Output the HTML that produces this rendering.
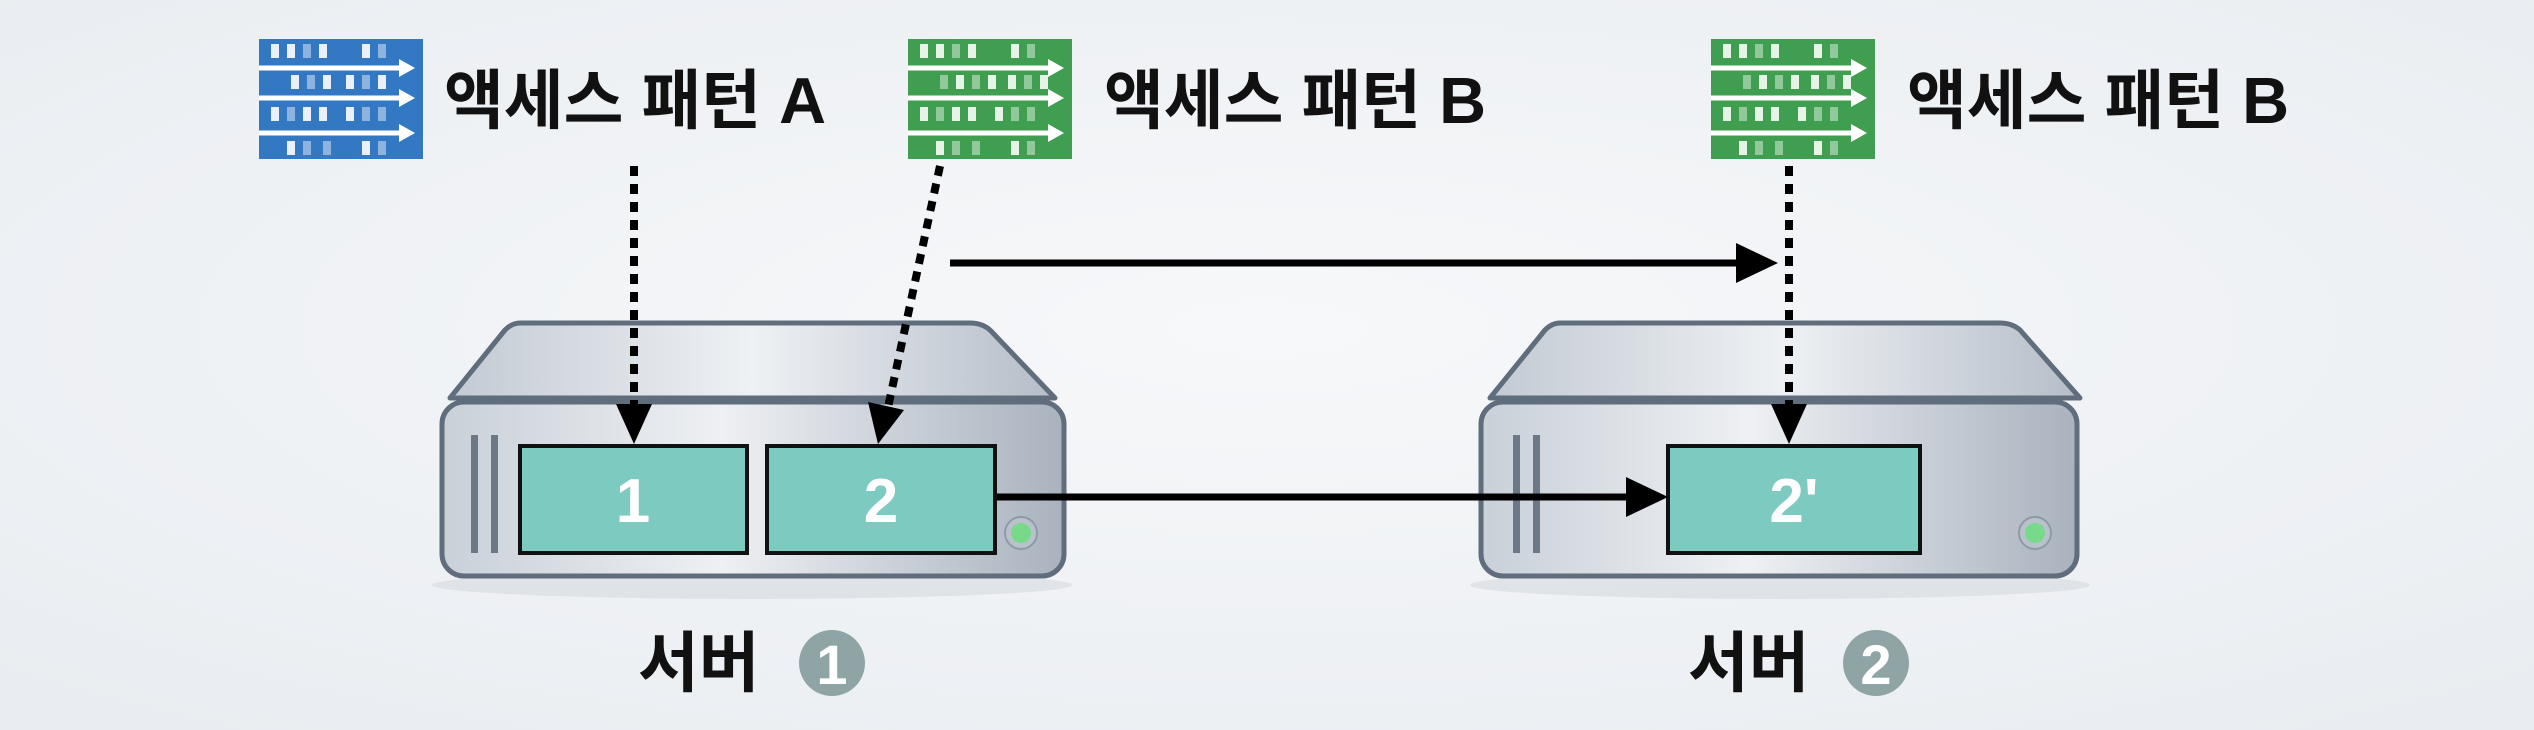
<!DOCTYPE html>
<html><head><meta charset="utf-8"><style>
html,body{margin:0;padding:0;}
body{width:2534px;height:730px;overflow:hidden;background:#f0f2f5;}
svg{display:block;}
text{font-family:"Liberation Sans","Noto Sans CJK KR",sans-serif;font-weight:bold;}
</style></head><body>
<svg width="2534" height="730" viewBox="0 0 2534 730" xmlns="http://www.w3.org/2000/svg">
<defs>
<radialGradient id="bg" cx="50%" cy="45%" r="70%"><stop offset="0" stop-color="#f7f8fa"/><stop offset="1" stop-color="#e9edf1"/></radialGradient>
<linearGradient id="top" x1="0" y1="0" x2="1" y2="0"><stop offset="0" stop-color="#c3cad3"/><stop offset="0.5" stop-color="#eef1f4"/><stop offset="1" stop-color="#b5bdc8"/></linearGradient>
<linearGradient id="front" x1="0" y1="0" x2="1" y2="0"><stop offset="0" stop-color="#c9d0d8"/><stop offset="0.45" stop-color="#eef0f3"/><stop offset="1" stop-color="#a9b2be"/></linearGradient>
</defs>
<rect width="2534" height="730" fill="url(#bg)"/>

<!-- icons -->
<g transform="translate(259,39)">
<rect width="164" height="120" fill="#3278c2"/>
<g stroke="#fff" stroke-width="5"><line x1="0" y1="29" x2="148" y2="29"/><line x1="0" y1="59" x2="148" y2="59"/><line x1="0" y1="94" x2="148" y2="94"/></g>
<g fill="#fff"><path d="M140,20 L156,29 L140,38z"/><path d="M140,50 L156,59 L140,68z"/><path d="M140,85 L156,94 L140,103z"/></g>
<g fill="#e8f0fa"><rect x="12" y="5" width="8" height="14"/><rect x="28" y="5" width="8" height="14"/><rect x="44" y="5" width="8" height="14" opacity=".5"/><rect x="60" y="5" width="8" height="14"/><rect x="103" y="5" width="8" height="14"/><rect x="119" y="5" width="8" height="14" opacity=".5"/>
<rect x="32" y="36" width="8" height="14"/><rect x="48" y="36" width="8" height="14" opacity=".5"/><rect x="64" y="36" width="8" height="14"/><rect x="87" y="36" width="8" height="14"/><rect x="103" y="36" width="8" height="14" opacity=".5"/><rect x="119" y="36" width="8" height="14"/>
<rect x="12" y="68" width="8" height="14"/><rect x="28" y="68" width="8" height="14" opacity=".5"/><rect x="44" y="68" width="8" height="14"/><rect x="60" y="68" width="8" height="14"/><rect x="87" y="68" width="8" height="14"/><rect x="103" y="68" width="8" height="14" opacity=".5"/><rect x="119" y="68" width="8" height="14" opacity=".5"/>
<rect x="28" y="102" width="8" height="14"/><rect x="44" y="102" width="8" height="14" opacity=".5"/><rect x="64" y="102" width="8" height="14" opacity=".5"/><rect x="103" y="102" width="8" height="14"/><rect x="119" y="102" width="8" height="14" opacity=".5"/></g>
</g>
<g transform="translate(908,39)">
<rect width="164" height="120" fill="#3f9e4f"/>
<g stroke="#fff" stroke-width="5"><line x1="0" y1="29" x2="148" y2="29"/><line x1="0" y1="59" x2="148" y2="59"/><line x1="0" y1="94" x2="148" y2="94"/></g>
<g fill="#fff"><path d="M140,20 L156,29 L140,38z"/><path d="M140,50 L156,59 L140,68z"/><path d="M140,85 L156,94 L140,103z"/></g>
<g fill="#e6f4e8"><rect x="12" y="5" width="8" height="14"/><rect x="28" y="5" width="8" height="14"/><rect x="44" y="5" width="8" height="14" opacity=".5"/><rect x="60" y="5" width="8" height="14"/><rect x="103" y="5" width="8" height="14"/><rect x="119" y="5" width="8" height="14" opacity=".5"/>
<rect x="32" y="36" width="8" height="14" opacity=".5"/><rect x="48" y="36" width="8" height="14"/><rect x="64" y="36" width="8" height="14" opacity=".5"/><rect x="80" y="36" width="8" height="14"/><rect x="100" y="36" width="8" height="14"/><rect x="116" y="36" width="8" height="14" opacity=".5"/><rect x="132" y="36" width="8" height="14"/>
<rect x="12" y="68" width="8" height="14"/><rect x="28" y="68" width="8" height="14" opacity=".5"/><rect x="44" y="68" width="8" height="14"/><rect x="60" y="68" width="8" height="14"/><rect x="87" y="68" width="8" height="14"/><rect x="103" y="68" width="8" height="14" opacity=".5"/><rect x="119" y="68" width="8" height="14" opacity=".5"/>
<rect x="28" y="102" width="8" height="14"/><rect x="44" y="102" width="8" height="14" opacity=".5"/><rect x="64" y="102" width="8" height="14" opacity=".5"/><rect x="103" y="102" width="8" height="14"/><rect x="119" y="102" width="8" height="14" opacity=".5"/></g>
</g>
<g transform="translate(1711,39)">
<rect width="164" height="120" fill="#3f9e4f"/>
<g stroke="#fff" stroke-width="5"><line x1="0" y1="29" x2="148" y2="29"/><line x1="0" y1="59" x2="148" y2="59"/><line x1="0" y1="94" x2="148" y2="94"/></g>
<g fill="#fff"><path d="M140,20 L156,29 L140,38z"/><path d="M140,50 L156,59 L140,68z"/><path d="M140,85 L156,94 L140,103z"/></g>
<g fill="#e6f4e8"><rect x="12" y="5" width="8" height="14"/><rect x="28" y="5" width="8" height="14"/><rect x="44" y="5" width="8" height="14" opacity=".5"/><rect x="60" y="5" width="8" height="14"/><rect x="103" y="5" width="8" height="14"/><rect x="119" y="5" width="8" height="14" opacity=".5"/>
<rect x="32" y="36" width="8" height="14" opacity=".5"/><rect x="48" y="36" width="8" height="14"/><rect x="64" y="36" width="8" height="14" opacity=".5"/><rect x="80" y="36" width="8" height="14"/><rect x="100" y="36" width="8" height="14"/><rect x="116" y="36" width="8" height="14" opacity=".5"/><rect x="132" y="36" width="8" height="14"/>
<rect x="12" y="68" width="8" height="14"/><rect x="28" y="68" width="8" height="14" opacity=".5"/><rect x="44" y="68" width="8" height="14"/><rect x="60" y="68" width="8" height="14"/><rect x="87" y="68" width="8" height="14"/><rect x="103" y="68" width="8" height="14" opacity=".5"/><rect x="119" y="68" width="8" height="14" opacity=".5"/>
<rect x="28" y="102" width="8" height="14"/><rect x="44" y="102" width="8" height="14" opacity=".5"/><rect x="64" y="102" width="8" height="14" opacity=".5"/><rect x="103" y="102" width="8" height="14"/><rect x="119" y="102" width="8" height="14" opacity=".5"/></g>
</g>

<g font-size="65" fill="#111">
<text x="444" y="123">액세스 패턴 A</text>
<text x="1104" y="123">액세스 패턴 B</text>
<text x="1907" y="123">액세스 패턴 B</text>
</g>

<!-- server 1 -->
<ellipse cx="752" cy="585" rx="320" ry="14" fill="#d8dde3" opacity=".7"/>
<path d="M520,323 L970,323 Q982,323 990,330 L1055,398 L450,398 L505,330 Q512,323 520,323z" fill="url(#top)" stroke="#5f6d7c" stroke-width="5" stroke-linejoin="round"/>
<rect x="442" y="402" width="622" height="174" rx="22" fill="url(#front)" stroke="#5f6d7c" stroke-width="5"/>
<rect x="471" y="435" width="7" height="118" fill="#6c7886"/><rect x="491" y="435" width="7" height="118" fill="#6c7886"/>
<rect x="520" y="446" width="227" height="107" fill="#7dcac0" stroke="#111" stroke-width="4"/>
<rect x="767" y="446" width="228" height="107" fill="#7dcac0" stroke="#111" stroke-width="4"/>
<circle cx="1021" cy="533" r="16" fill="#b9c2cc" stroke="#8f9aa6" stroke-width="2"/><circle cx="1021" cy="533" r="10" fill="#79d98a"/>
<g font-size="62" fill="#fff" text-anchor="middle"><text x="633" y="522">1</text><text x="881" y="522">2</text></g>

<!-- server 2 -->
<ellipse cx="1780" cy="585" rx="310" ry="14" fill="#d8dde3" opacity=".7"/>
<path d="M1560,323 L2000,323 Q2012,323 2020,330 L2080,398 L1490,398 L1545,330 Q1552,323 1560,323z" fill="url(#top)" stroke="#5f6d7c" stroke-width="5" stroke-linejoin="round"/>
<rect x="1481" y="402" width="596" height="174" rx="22" fill="url(#front)" stroke="#5f6d7c" stroke-width="5"/>
<rect x="1513" y="435" width="7" height="118" fill="#6c7886"/><rect x="1533" y="435" width="7" height="118" fill="#6c7886"/>
<rect x="1668" y="446" width="252" height="107" fill="#7dcac0" stroke="#111" stroke-width="4"/>
<circle cx="2035" cy="533" r="16" fill="#b9c2cc" stroke="#8f9aa6" stroke-width="2"/><circle cx="2035" cy="533" r="10" fill="#79d98a"/>
<text x="1794" y="522" font-size="62" fill="#fff" text-anchor="middle">2'</text>

<!-- arrows -->
<g stroke="#000" stroke-width="8" fill="none">
<line x1="634" y1="166" x2="634" y2="412" stroke-dasharray="10,8"/>
<line x1="940" y1="166" x2="887" y2="412" stroke-dasharray="10,8"/>
<line x1="1789" y1="166" x2="1789" y2="412" stroke-dasharray="10,8"/>
</g>
<g stroke="#000" stroke-width="7" fill="none">
<line x1="950" y1="263" x2="1740" y2="263"/>
<line x1="997" y1="497" x2="1630" y2="497"/>
</g>
<g fill="#000">
<path d="M616,404 L652,404 L634,444z"/>
<path d="M868,402 L904,410 L878,444z"/>
<path d="M1771,404 L1807,404 L1789,444z"/>
<path d="M1736,243 L1778,263 L1736,283z"/>
<path d="M1626,477 L1668,497 L1626,517z"/>
</g>

<!-- labels -->
<g font-size="66" fill="#111"><text x="638" y="686">서버</text><text x="1688" y="686">서버</text></g>
<circle cx="832" cy="663" r="33" fill="#8fa5a5"/><text x="832" y="684" font-size="56" fill="#fff" text-anchor="middle">1</text>
<circle cx="1876" cy="663" r="33" fill="#8fa5a5"/><text x="1876" y="684" font-size="56" fill="#fff" text-anchor="middle">2</text>
</svg>
</body></html>
